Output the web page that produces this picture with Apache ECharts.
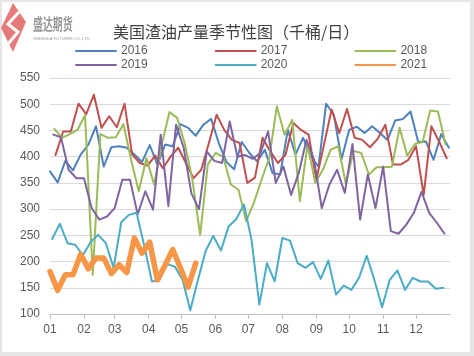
<!DOCTYPE html>
<html>
<head>
<meta charset="utf-8">
<script src="https://cdn.jsdelivr.net/npm/echarts@6/dist/echarts.min.js"></script>
<style>
  html, body { margin:0; padding:0; background:#e6e6e6; }
  #frame { position:absolute; left:2px; top:2px; width:468px; height:350px; background:#ffffff; }
  #chart { position:absolute; left:0; top:0; width:474px; height:356px; }
</style>
</head>
<body>
<div id="frame"></div>
<div id="chart"></div>
<script>
// Series names (legend order)
const seriesNames = ['2016', '2017', '2018', '2019', '2020', '2021'];
// First weekly report day (in January) of each year, mapped to a common calendar
const startDays = [1, 6, 5, 4, 3, 1];
// Weekly values (kb/d)
const v2016 = [372,351,392,374,404,423,458,381,418,420,417,404,390,422,385,423,420,462,455,440,461,472,426,390,376,428,407,391,413,369,366,451,404,436,400,381,501,480,395,451,457,445,458,445,432,469,472,486,428,429,394,443,417];
const v2017 = [403,448,448,501,481,518,455,477,456,501,404,388,383,402,378,400,417,388,359,375,426,480,451,432,426,350,360,436,410,388,404,464,451,442,356,423,490,445,491,436,432,418,434,461,385,385,394,420,327,458,429,397];
const v2018 = [453,436,443,451,479,175,443,436,437,462,394,334,397,347,423,485,474,425,355,251,385,407,400,347,337,277,312,356,397,496,442,470,315,423,350,375,413,420,348,411,407,366,380,380,381,455,402,424,428,488,486,423];
const v2019 = [442,437,375,359,359,302,280,286,302,356,356,290,334,299,442,306,461,417,330,300,410,392,388,467,400,403,396,407,448,350,381,327,369,432,394,302,347,375,331,424,280,366,302,381,258,253,270,293,333,293,274,253];
const v2020 = [243,272,235,232,212,237,251,235,188,275,289,293,230,162,165,195,190,165,107,165,220,249,221,267,281,309,240,118,197,162,245,240,197,188,199,167,202,137,154,146,169,211,165,113,165,183,146,169,162,162,148,150];
const v2021 = [181,145,175,175,214,186,207,207,177,194,179,245,216,237,165,193,223,188,151,197];
const allValues = [v2016, v2017, v2018, v2019, v2020, v2021];
// Month tick labels
const monthLabels = ['01','02','03','04','05','06','07','08','09','10','11','12'];

const colors = ['#4F81BD', '#C0504D', '#9BBB59', '#8064A2', '#4BACC6', '#F79646'];
const widths = [2, 2, 2, 2, 2, 5.5];

function weekly(startDay, values) {
  return values.map((v, i) => [new Date(2021, 0, startDay + 7 * i).getTime(), v]);
}

const DAY = 86400000;
const chart = echarts.init(document.getElementById('chart'), null, { renderer: 'canvas' });

const series = seriesNames.map((name, k) => ({
  name: name,
  type: 'line',
  data: weekly(startDays[k], allValues[k]),
  symbol: 'none',
  showSymbol: false,
  lineStyle: { color: colors[k], width: widths[k], cap: 'round', join: 'round' },
  itemStyle: { color: colors[k] },
  z: 2 + k
}));

const legendText = { fontSize: 12, color: '#595959', fontFamily: 'Liberation Sans' };
const legendCommon = {
  left: 70, itemWidth: 40, itemHeight: 10, itemGap: 67, textStyle: legendText,
  itemStyle: { color: 'rgba(0,0,0,0)', borderColor: 'rgba(0,0,0,0)', borderWidth: 0, opacity: 0 }
};

chart.setOption({
  animation: false,
  backgroundColor: 'transparent',
  title: {
    text: '美国渣油产量季节性图（千桶/日）',
    left: 108,
    top: 19,
    textStyle: { fontSize: 16, fontWeight: 'normal', color: '#404040', fontFamily: 'Noto Sans CJK SC' }
  },
  legend: [
    Object.assign({ data: seriesNames.slice(0, 3), top: 40 }, legendCommon),
    Object.assign({ data: seriesNames.slice(3, 6), top: 54 }, legendCommon)
  ],
  grid: { left: 50, right: 24, top: 78, bottom: 42, containLabel: false },
  xAxis: {
    type: 'time',
    min: new Date(2021, 0, 1).getTime(),
    max: new Date(2022, 0, 1).getTime(),
    minInterval: 28 * DAY,
    maxInterval: 31 * DAY,
    axisLine: { lineStyle: { color: '#bfbfbf', width: 1 } },
    axisTick: { show: true, length: 5, lineStyle: { color: '#bfbfbf' } },
    axisLabel: {
      margin: 10,
      fontSize: 12,
      color: '#595959',
      fontFamily: 'Liberation Sans',
      formatter: function (val) {
        const d = new Date(val);
        if (d.getFullYear() !== 2021) return '';
        return monthLabels[d.getMonth()];
      }
    },
    splitLine: { show: false }
  },
  yAxis: {
    type: 'value',
    min: 100,
    max: 550,
    interval: 50,
    axisLine: { show: false },
    axisTick: { show: false },
    axisLabel: { margin: 10, fontSize: 12, color: '#595959', fontFamily: 'Liberation Sans' },
    splitLine: { lineStyle: { color: '#d9d9d9', width: 1 } }
  },
  graphic: [
    { type: 'polygon', shape: { points: [[13, 3], [26, 22], [13, 52], [1, 28]] }, style: { fill: '#e57a7a' }, z: 100 },
    { type: 'polyline', shape: { points: [[19, 12], [8, 24], [18, 32], [8, 44]] }, style: { stroke: '#ffffff', lineWidth: 3, fill: null }, z: 101 },
    { type: 'text', x: 33, y: 16, scaleX: 0.62, style: { text: '盛达期货', fontSize: 16, fontWeight: 'bold', fill: '#9a9a9a', fontFamily: 'Noto Sans CJK SC' }, z: 100 },
    { type: 'text', x: 33, y: 37, style: { text: 'SHENGDA FUTURES CO.,LTD.', fontSize: 4, fill: '#9a9a9a', fontFamily: 'Liberation Sans' }, z: 100 }
  ],
  series: series
});
</script>
</body>
</html>
